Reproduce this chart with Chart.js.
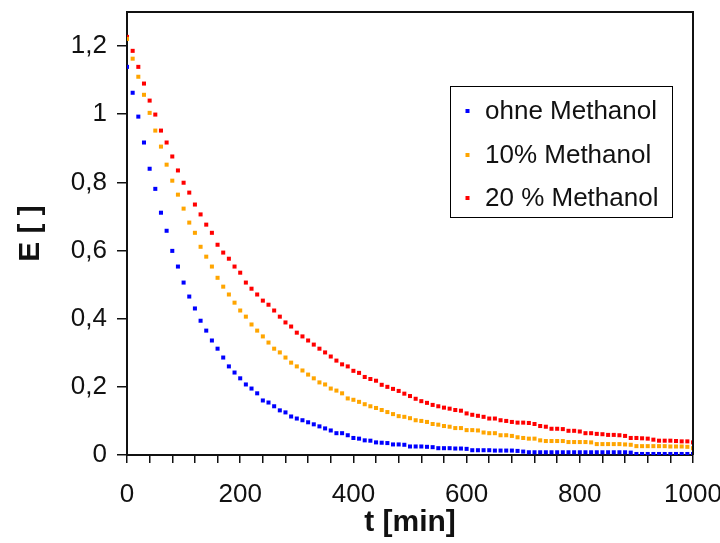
<!DOCTYPE html>
<html>
<head>
<meta charset="utf-8">
<script src="https://cdn.jsdelivr.net/npm/chart.js@4.4.1/dist/chart.umd.min.js"></script>
<style>
  html, body { margin: 0; padding: 0; background: #fff; }
  #wrap { width: 720px; height: 543px; }
</style>
</head>
<body>
<div id="wrap"><canvas id="c" width="720" height="543"></canvas></div>
<script>
// Messzeitpunkte t [min]
const times = [
  0, 10, 20, 30, 40, 50, 60, 70, 80, 90,
  100, 110, 120, 130, 140, 150, 160, 170, 180, 190,
  200, 210, 220, 230, 240, 250, 260, 270, 280, 290,
  300, 310, 320, 330, 340, 350, 360, 370, 380, 390,
  400, 410, 420, 430, 440, 450, 460, 470, 480, 490,
  500, 510, 520, 530, 540, 550, 560, 570, 580, 590,
  600, 610, 620, 630, 640, 650, 660, 670, 680, 690,
  700, 710, 720, 730, 740, 750, 760, 770, 780, 790,
  800, 810, 820, 830, 840, 850, 860, 870, 880, 890,
  900, 910, 920, 930, 940, 950, 960, 970, 980, 990,
  1000
];

// Extinktion E ohne Methanol
const ohneMethanol = [
  1.139, 1.063, 0.993, 0.917, 0.840, 0.781, 0.711, 0.658, 0.599, 0.553,
  0.506, 0.465, 0.430, 0.394, 0.365, 0.336, 0.312, 0.286, 0.260, 0.242,
  0.225, 0.207, 0.195, 0.181, 0.160, 0.154, 0.143, 0.131, 0.125, 0.113,
  0.107, 0.102, 0.096, 0.090, 0.084, 0.078, 0.072, 0.064, 0.064, 0.058,
  0.050, 0.048, 0.043, 0.042, 0.037, 0.036, 0.035, 0.031, 0.031, 0.030,
  0.025, 0.025, 0.025, 0.024, 0.023, 0.020, 0.020, 0.020, 0.019, 0.019,
  0.018, 0.014, 0.014, 0.014, 0.014, 0.013, 0.013, 0.013, 0.013, 0.012,
  0.010, 0.008, 0.008, 0.008, 0.008, 0.008, 0.008, 0.008, 0.008, 0.008,
  0.008, 0.008, 0.008, 0.008, 0.008, 0.008, 0.008, 0.008, 0.008, 0.007,
  0.003, 0.003, 0.003, 0.003, 0.003, 0.003, 0.003, 0.003, 0.003, 0.003,
  0.003
];

// Extinktion E mit 10 % Methanol
const methanol10 = [
  1.221, 1.163, 1.110, 1.057, 1.004, 0.952, 0.905, 0.852, 0.805, 0.764,
  0.723, 0.682, 0.652, 0.611, 0.582, 0.553, 0.520, 0.494, 0.471, 0.447,
  0.424, 0.406, 0.383, 0.365, 0.348, 0.330, 0.312, 0.301, 0.286, 0.271,
  0.260, 0.248, 0.236, 0.225, 0.213, 0.207, 0.195, 0.189, 0.181, 0.166,
  0.162, 0.156, 0.149, 0.143, 0.138, 0.132, 0.126, 0.120, 0.114, 0.112,
  0.108, 0.102, 0.100, 0.097, 0.091, 0.089, 0.085, 0.083, 0.079, 0.079,
  0.073, 0.073, 0.072, 0.066, 0.064, 0.064, 0.058, 0.058, 0.056, 0.052,
  0.050, 0.048, 0.048, 0.043, 0.041, 0.041, 0.041, 0.041, 0.038, 0.038,
  0.038, 0.038, 0.037, 0.032, 0.032, 0.032, 0.032, 0.032, 0.031, 0.030,
  0.026, 0.026, 0.026, 0.026, 0.026, 0.026, 0.025, 0.025, 0.025, 0.024,
  0.020
];

// Extinktion E mit 20 % Methanol
const methanol20 = [
  1.227, 1.186, 1.139, 1.090, 1.040, 0.999, 0.952, 0.917, 0.876, 0.835,
  0.799, 0.770, 0.735, 0.706, 0.676, 0.652, 0.617, 0.594, 0.576, 0.553,
  0.535, 0.506, 0.488, 0.471, 0.453, 0.441, 0.424, 0.406, 0.389, 0.377,
  0.359, 0.348, 0.336, 0.324, 0.312, 0.301, 0.289, 0.277, 0.266, 0.260,
  0.247, 0.241, 0.229, 0.223, 0.218, 0.206, 0.200, 0.194, 0.188, 0.180,
  0.173, 0.165, 0.158, 0.153, 0.147, 0.143, 0.139, 0.136, 0.132, 0.130,
  0.122, 0.118, 0.115, 0.112, 0.107, 0.107, 0.102, 0.100, 0.097, 0.095,
  0.095, 0.094, 0.091, 0.085, 0.083, 0.077, 0.077, 0.076, 0.071, 0.071,
  0.069, 0.064, 0.064, 0.062, 0.061, 0.059, 0.059, 0.058, 0.056, 0.050,
  0.050, 0.049, 0.048, 0.045, 0.042, 0.042, 0.042, 0.041, 0.040, 0.040,
  0.037
];

const seriesLabels = ['ohne Methanol', '10% Methanol', '20 % Methanol'];
const seriesColors = ['#0000ff', '#ffa500', '#ff0000'];
const xLabelStep = 200;   // beschriftete Ticks
const xMinorStep = 40;    // Teilstriche

const FONT = 'Liberation Sans, Arial, Helvetica, sans-serif';

const toPoints = (ys) => times.map((t, i) => ({ x: t, y: ys[i] }));

// Rahmen oben/rechts um die Zeichenfläche
const framePlugin = {
  id: 'frame',
  afterDatasetsDraw(chart) {
    const { ctx, chartArea: a } = chart;
    ctx.save();
    ctx.strokeStyle = '#111';
    ctx.lineWidth = 2;
    ctx.beginPath();
    ctx.moveTo(a.left, a.top);
    ctx.lineTo(a.right, a.top);
    ctx.lineTo(a.right, a.bottom);
    ctx.stroke();
    ctx.restore();
  }
};

// Legende im Diagramm mit Rahmen
const boxLegend = {
  id: 'boxLegend',
  afterDraw(chart) {
    const { ctx } = chart;
    const box = { x: 450, y: 86, w: 222, h: 131 };
    const rows = [111, 155, 198];
    ctx.save();
    ctx.fillStyle = '#fff';
    ctx.fillRect(box.x, box.y, box.w, box.h);
    ctx.strokeStyle = '#000';
    ctx.lineWidth = 1;
    ctx.strokeRect(box.x + 0.5, box.y + 0.5, box.w, box.h);
    ctx.font = '26px ' + FONT;
    ctx.textBaseline = 'middle';
    ctx.textAlign = 'left';
    chart.data.datasets.forEach((ds, i) => {
      const y = rows[i];
      ctx.fillStyle = ds.backgroundColor;
      ctx.fillRect(465.5, y - 2, 4, 4);
      ctx.fillStyle = '#111';
      ctx.fillText(ds.label, 485, y + 1);
    });
    ctx.restore();
  }
};

new Chart(document.getElementById('c'), {
  type: 'scatter',
  data: {
    datasets: [
      { label: seriesLabels[0], data: toPoints(ohneMethanol), backgroundColor: seriesColors[0] },
      { label: seriesLabels[1], data: toPoints(methanol10), backgroundColor: seriesColors[1] },
      { label: seriesLabels[2], data: toPoints(methanol20), backgroundColor: seriesColors[2] }
    ]
  },
  options: {
    responsive: false,
    animation: false,
    devicePixelRatio: 1,
    layout: { padding: { left: 0, right: 27, top: 12, bottom: 0 } },
    elements: {
      point: { pointStyle: 'rect', radius: 2.85, hoverRadius: 2.85, borderWidth: 0 }
    },
    plugins: {
      legend: { display: false },
      tooltip: { enabled: false }
    },
    scales: {
      x: {
        type: 'linear',
        min: 0,
        max: 1000,
        border: { display: true, color: '#111', width: 2 },
        grid: { drawOnChartArea: false, drawTicks: true, tickLength: 8, color: '#111', lineWidth: 1.5 },
        ticks: {
          stepSize: xMinorStep,
          autoSkip: false,
          maxRotation: 0,
          padding: 16,
          color: '#111',
          font: { family: FONT, size: 26 },
          callback: (v) => (v % xLabelStep === 0 ? String(v) : '')
        },
        title: {
          display: true,
          text: 't [min]',
          color: '#111',
          font: { family: FONT, size: 30, weight: 'bold' },
          padding: { top: 0, bottom: 2 }
        },
        afterFit(scale) {
          scale.height = 88;
          scale.paddingLeft = 0;
          scale.paddingRight = 0;
        }
      },
      y: {
        min: 0,
        max: 1.3,
        border: { display: true, color: '#111', width: 2 },
        grid: { drawOnChartArea: false, drawTicks: true, tickLength: 10, color: '#111', lineWidth: 1.5 },
        ticks: {
          stepSize: 0.2,
          includeBounds: false,
          padding: 10,
          color: '#111',
          font: { family: FONT, size: 26 },
          callback: (v) => String(+v.toFixed(1)).replace('.', ',')
        },
        title: {
          display: true,
          text: 'E [ ]',
          color: '#111',
          font: { family: FONT, size: 30, weight: 'bold' },
          padding: { top: 13, bottom: 0 }
        },
        afterFit(scale) {
          scale.width = 127;
          scale.paddingTop = 0;
          scale.paddingBottom = 0;
        }
      }
    }
  },
  plugins: [framePlugin, boxLegend]
});
</script>
</body>
</html>
